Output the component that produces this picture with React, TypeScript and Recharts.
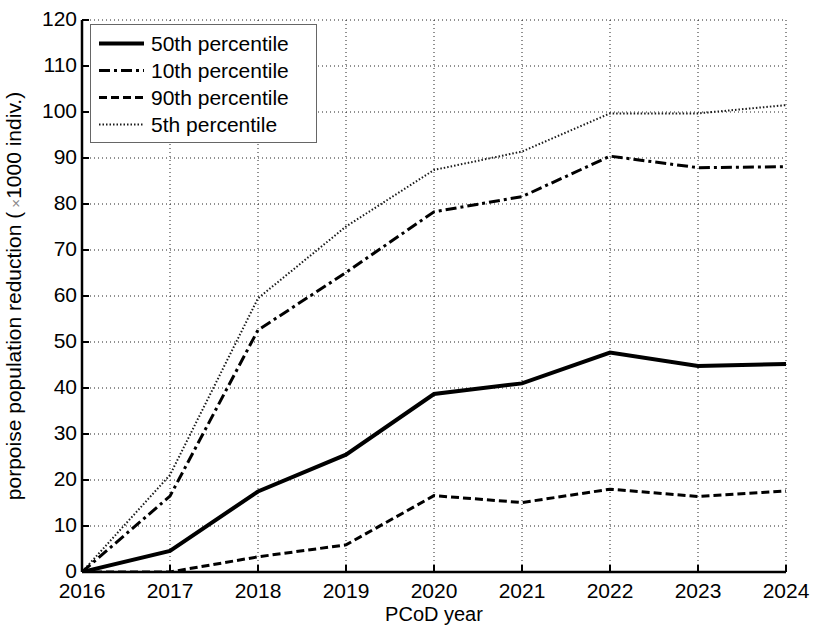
import React from "react";
import {
  LineChart,
  Line,
  XAxis,
  YAxis,
  CartesianGrid,
  Legend,
} from "recharts";

const years = [2016, 2017, 2018, 2019, 2020, 2021, 2022, 2023, 2024];
const p50 = [0, 4.6, 17.5, 25.5, 38.7, 41.0, 47.7, 44.8, 45.2];
const p10 = [0, 16.5, 52.6, 65.1, 78.3, 81.6, 90.4, 87.9, 88.1];
const p90 = [0, 0, 3.3, 5.9, 16.6, 15.1, 18.0, 16.4, 17.6];
const p5 = [0, 21.1, 59.5, 75.1, 87.4, 91.4, 99.7, 99.7, 101.5];
const yTicks = [0, 10, 20, 30, 40, 50, 60, 70, 80, 90, 100, 110, 120];

const seriesNames = ["50th percentile", "10th percentile", "90th percentile", "5th percentile"];

const data = years.map((year, i) => ({
  year,
  p50: p50[i],
  p10: p10[i],
  p90: p90[i],
  p5: p5[i],
}));

const FONT = "'Liberation Sans', Arial, Helvetica, sans-serif";

const styles = [
  { key: "p50", name: seriesNames[0], width: 4, dash: undefined as string | undefined, color: "#000" },
  { key: "p10", name: seriesNames[1], width: 3, dash: "11 4 3 4", color: "#000" },
  { key: "p90", name: seriesNames[2], width: 3, dash: "8 4", color: "#000" },
  { key: "p5", name: seriesNames[3], width: 2, dash: "1.5 2", color: "#1a1a1a" },
];

const XTick = (props: any) => {
  const { x, y, payload } = props;
  return (
    <g>
      <line x1={x} x2={x} y1={y} y2={y - 7} stroke="#000" strokeWidth={2} />
      <text x={x} y={y + 26} textAnchor="middle" fontSize={21} fontFamily={FONT} fill="#000">
        {payload.value}
      </text>
    </g>
  );
};

const XTickTop = (props: any) => {
  const { x, y } = props;
  return <line x1={x} x2={x} y1={y} y2={y + 7} stroke="#000" strokeWidth={2} />;
};

const YTick = (props: any) => {
  const { x, y, payload } = props;
  return (
    <g>
      <line x1={x} x2={x + 7} y1={y} y2={y} stroke="#000" strokeWidth={2} />
      <text x={x - 5} y={y + 6} textAnchor="end" fontSize={21} fontFamily={FONT} fill="#000">
        {payload.value}
      </text>
    </g>
  );
};

const YTickRight = (props: any) => {
  const { x, y } = props;
  return <line x1={x} x2={x - 7} y1={y} y2={y} stroke="#000" strokeWidth={2} />;
};

const YLabel = (props: any) => {
  const vb = props.viewBox || { x: 0, y: 20, width: 82, height: 552 };
  const cx = vb.x + 21;
  const cy = vb.y + vb.height / 2;
  return (
    <text
      x={cx}
      y={cy}
      transform={`rotate(-90, ${cx}, ${cy})`}
      textAnchor="middle"
      fontSize={21}
      fontFamily={FONT}
      fill="#000"
    >
      porpoise population reduction (
      <tspan fontSize={15} fill="#888">{"  ×"}</tspan>
      <tspan>1000 indiv.)</tspan>
    </text>
  );
};

const XLabel = (props: any) => {
  const vb = props.viewBox || { x: 82, y: 572, width: 704, height: 56 };
  return (
    <text
      x={vb.x + vb.width / 2}
      y={vb.y + 49}
      textAnchor="middle"
      fontSize={20}
      fontFamily={FONT}
      fill="#000"
    >
      PCoD year
    </text>
  );
};

const LegendBox = () => (
  <div
    style={{
      width: 227,
      height: 119,
      boxSizing: "border-box",
      border: "1px solid #666",
      background: "#fff",
      paddingTop: 5,
      fontFamily: FONT,
      fontSize: 21,
      color: "#000",
    }}
  >
    {styles.map((s) => (
      <div key={s.key} style={{ height: 27, display: "flex", alignItems: "center" }}>
        <svg width={60} height={27} style={{ flex: "none" }}>
          <line
            x1={8}
            x2={53}
            y1={13.5}
            y2={13.5}
            stroke={s.color}
            strokeWidth={s.width}
            strokeDasharray={s.dash}
          />
        </svg>
        <span style={{ whiteSpace: "nowrap", lineHeight: "27px" }}>{s.name}</span>
      </div>
    ))}
  </div>
);

export default function App() {
  return (
    <div style={{ position: "absolute", left: 0, top: 0, width: 813, height: 628, background: "#fff" }}>
      <LineChart
        width={813}
        height={628}
        data={data}
        margin={{ top: 20, right: 27, bottom: 0, left: 0 }}
      >
        <CartesianGrid stroke="#222" strokeDasharray="1 3" strokeWidth={1} />
        <XAxis
          dataKey="year"
          type="number"
          domain={[2016, 2024]}
          ticks={years}
          allowDataOverflow
          height={56}
          tickSize={0}
          tickMargin={0}
          tickLine={false}
          tick={<XTick />}
          axisLine={{ stroke: "#000", strokeWidth: 2.5 }}
          interval={0}
          label={<XLabel />}
        />
        <XAxis
          xAxisId="top"
          orientation="top"
          dataKey="year"
          type="number"
          domain={[2016, 2024]}
          ticks={years}
          allowDataOverflow
          height={0}
          tickSize={0}
          tickMargin={0}
          tickLine={false}
          tick={<XTickTop />}
          axisLine={{ stroke: "#000", strokeWidth: 2.5 }}
          interval={0}
        />
        <YAxis
          type="number"
          domain={[0, 120]}
          ticks={yTicks}
          allowDataOverflow
          width={82}
          tickSize={0}
          tickMargin={0}
          tickLine={false}
          tick={<YTick />}
          axisLine={{ stroke: "#000", strokeWidth: 2.5 }}
          interval={0}
          label={<YLabel />}
        />
        <YAxis
          yAxisId="right"
          orientation="right"
          type="number"
          domain={[0, 120]}
          ticks={yTicks}
          allowDataOverflow
          width={0}
          tickSize={0}
          tickMargin={0}
          tickLine={false}
          tick={<YTickRight />}
          axisLine={{ stroke: "#000", strokeWidth: 2.5 }}
          interval={0}
        />
        <Legend
          layout="vertical"
          align="center"
          verticalAlign="middle"
          wrapperStyle={{ left: 90, top: 24, width: 227 }}
          content={() => <LegendBox />}
        />
        <Line
          xAxisId="top"
          yAxisId="right"
          dataKey="p50"
          stroke="none"
          dot={false}
          activeDot={false}
          legendType="none"
          isAnimationActive={false}
        />
        {[...styles].reverse().map((s) => (
          <Line
            key={s.key}
            type="linear"
            dataKey={s.key}
            name={s.name}
            stroke={s.color}
            strokeWidth={s.width}
            strokeDasharray={s.dash}
            dot={false}
            activeDot={false}
            isAnimationActive={false}
          />
        ))}
      </LineChart>
    </div>
  );
}
